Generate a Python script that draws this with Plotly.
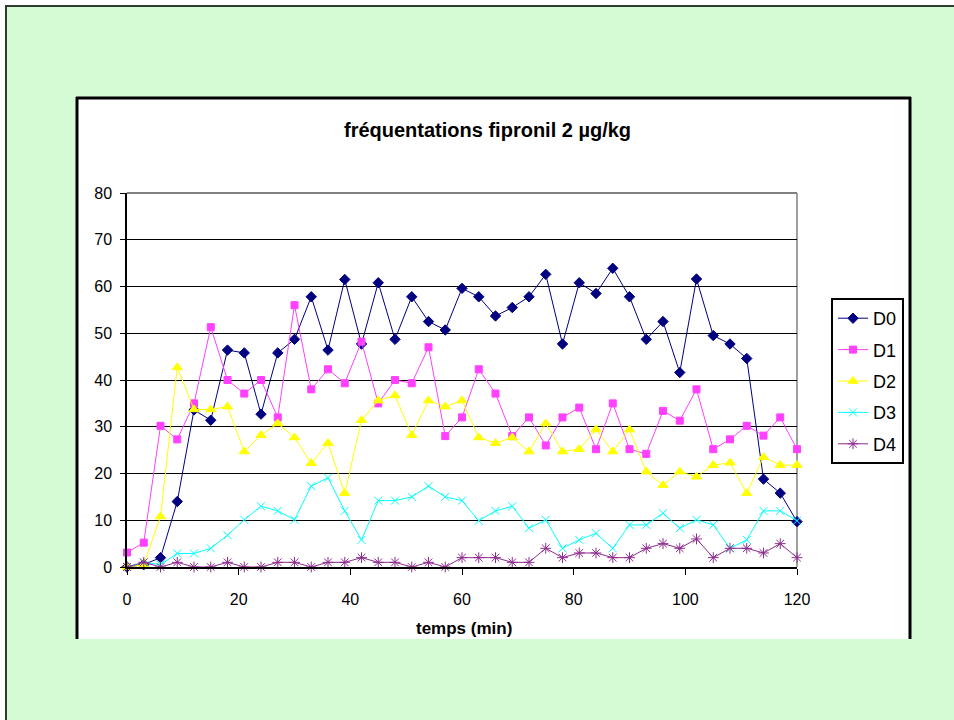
import plotly.graph_objects as go

# ---- data ----
temps = list(range(0, 121, 3))
series_names = ["D0", "D1", "D2", "D3", "D4"]
D0 = [0, 0.5, 2, 14, 33.6, 31.4, 46.4, 45.8, 32.7, 45.8,
      48.7, 57.8, 46.4, 61.5, 47.7, 60.8, 48.7, 57.8, 52.5, 50.7,
      59.6, 57.8, 53.7, 55.5, 57.8, 62.6, 47.7, 60.8, 58.5, 63.9,
      57.8, 48.7, 52.5, 41.6, 61.6, 49.5, 47.7, 44.6, 18.8, 15.8,
      9.7]
D1 = [3.1, 5.2, 30.2, 27.3, 35.0, 51.3, 40.0, 37.1, 40.0, 32.0,
      56.0, 38.0, 42.3, 39.3, 48.2, 35.0, 40.0, 39.3, 47.0, 28.0,
      32.0, 42.3, 37.1, 28.0, 32.0, 26.0, 32.0, 34.1, 25.2, 35.0,
      25.2, 24.2, 33.4, 31.3, 38.0, 25.2, 27.3, 30.2, 28.1, 32.0,
      25.2]
D2 = [0, 0.5, 10.8, 42.7, 33.7, 33.7, 34.3, 24.7, 28.2, 30.7,
      27.7, 22.2, 26.5, 15.8, 31.4, 35.6, 36.7, 28.2, 35.6, 34.3,
      35.6, 27.7, 26.5, 27.7, 24.7, 30.7, 24.7, 25.2, 29.4, 24.7,
      29.4, 20.4, 17.5, 20.4, 19.3, 21.8, 22.3, 15.8, 23.5, 21.8,
      21.8]
D3 = [0, 1, 0.5, 2.9, 2.9, 4.0, 6.8, 10.1, 13.0, 12.0,
      10.1, 17.3, 19.1, 12.0, 5.8, 14.2, 14.2, 15.0, 17.3, 15.0,
      14.2, 9.9, 12.0, 13.0, 8.3, 10.1, 4.0, 5.8, 7.2, 4.0,
      9.0, 9.0, 11.5, 8.3, 10.1, 9.0, 4.0, 5.8, 12.0, 12.0,
      9.9]
D4 = [0, 1, 0, 1, 0, 0, 1, 0, 0, 1,
      1, 0, 1, 1, 2, 1, 1, 0, 1, 0,
      2, 2, 2, 1, 1, 4, 2, 3, 3, 2,
      2, 4, 5, 4, 6, 2, 4, 4, 3, 5,
      2]
x_ticks = [0, 20, 40, 60, 80, 100, 120]
y_ticks = [0, 10, 20, 30, 40, 50, 60, 70, 80]

title_text = "fréquentations fipronil 2 µg/kg"
x_title = "temps (min)"

# ---- styles ----
colors = ["#000080", "#FF40FF", "#FFFF00", "#00FFFF", "#8E2C8E"]
symbols = ["diamond", "square", "triangle-up", "x-thin-open", "asterisk-open"]
msizes = [8, 7, 9, 8, 9]

OFF = 5  # page offset (white margin at top/left)
W, H = 954 - OFF, 720 - OFF
# plot area in page pixels
L, R, T, B = 127, 797, 193, 567
FONT = "Liberation Sans, Arial, sans-serif"


def px(x):
    return (x - L) / (R - L)


def py(y):
    return (B - y) / (B - T)


fig = go.Figure()
for name, vals, c, s, ms in zip(series_names, [D0, D1, D2, D3, D4], colors, symbols, msizes):
    fig.add_trace(go.Scatter(
        x=temps, y=vals, name=name, mode="lines+markers",
        legendgroup=name,
        line=dict(color=c, width=1),
        marker=dict(symbol=s, size=ms, color=c, line=dict(color=c, width=1)),
        cliponaxis=False,
    ))

shapes = [
    # white chart box
    dict(type="rect", xref="paper", yref="paper", x0=px(76), x1=px(910), y0=py(639), y1=py(98),
         fillcolor="white", line=dict(width=0), layer="below"),
    dict(type="line", xref="paper", yref="paper", x0=px(77), x1=px(77), y0=py(639), y1=py(97),
         line=dict(color="black", width=3), layer="below"),
    dict(type="line", xref="paper", yref="paper", x0=px(76), x1=px(911), y0=py(98), y1=py(98),
         line=dict(color="black", width=3), layer="below"),
    dict(type="line", xref="paper", yref="paper", x0=px(910), x1=px(910), y0=py(639), y1=py(97),
         line=dict(color="black", width=3), layer="below"),
    # outer frame lines (at figure edge)
    dict(type="line", xref="paper", yref="paper", x0=px(OFF + 1), x1=px(OFF + 1), y0=py(730), y1=py(OFF),
         line=dict(color="#2E3B2E", width=2), layer="below"),
    dict(type="line", xref="paper", yref="paper", x0=px(OFF), x1=px(960), y0=py(OFF + 1), y1=py(OFF + 1),
         line=dict(color="#2E3B2E", width=2), layer="below"),
    # plot area border (top, right) gray
    dict(type="line", xref="paper", yref="paper", x0=0, x1=1, y0=1, y1=1,
         line=dict(color="#808080", width=2), layer="above"),
    dict(type="line", xref="paper", yref="paper", x0=1, x1=1, y0=0, y1=1,
         line=dict(color="#808080", width=1.5), layer="below"),
]

fig.update_layout(
    width=W, height=H,
    margin=dict(l=L - OFF, r=954 - R, t=T - OFF, b=720 - B, pad=0),
    paper_bgcolor="#D5FBD5",
    plot_bgcolor="#C9C9C9",
    font=dict(family=FONT, color="black", size=16),
    showlegend=True,
    legend=dict(
        x=px(831), y=py(298), xanchor="left", yanchor="top",
        bgcolor="white", bordercolor="black", borderwidth=2,
        font=dict(size=18, family=FONT, color="black"),
        traceorder="grouped", tracegroupgap=5,
        itemwidth=30,
    ),
    shapes=shapes,
    annotations=[
        dict(text="<b>" + title_text + "</b>", xref="paper", yref="paper",
             x=px(488), y=py(130), xanchor="center", yanchor="middle",
             showarrow=False, font=dict(size=20, family=FONT, color="black")),
        dict(text="<b>" + x_title + "</b>", xref="paper", yref="paper",
             x=px(464), y=py(628), xanchor="center", yanchor="middle",
             showarrow=False, font=dict(size=17, family=FONT, color="black")),
    ],
)

fig.update_xaxes(
    range=[0, 120], tickvals=x_ticks, ticktext=[str(v) for v in x_ticks],
    showgrid=False, zeroline=False,
    showline=True, linecolor="black", linewidth=2,
    ticks="outside", ticklen=6, tickcolor="black", tickwidth=1,
    ticklabelstandoff=11,
    tickfont=dict(size=16, family=FONT, color="black"),
)
fig.update_yaxes(
    range=[0, 80], tickvals=y_ticks, ticktext=[str(v) for v in y_ticks],
    showgrid=True, gridcolor="black", gridwidth=1,
    zeroline=False,
    showline=True, linecolor="black", linewidth=1.5,
    ticks="outside", ticklen=5, tickcolor="black", tickwidth=1,
    ticklabelstandoff=5,
    tickfont=dict(size=16, family=FONT, color="black"),
)

fig.write_html(
    "out.html",
    post_script="document.body.style.margin='%dpx 0 0 %dpx';"
                "document.body.style.overflow='hidden';"
                "document.documentElement.style.overflow='hidden';" % (OFF, OFF),
)
